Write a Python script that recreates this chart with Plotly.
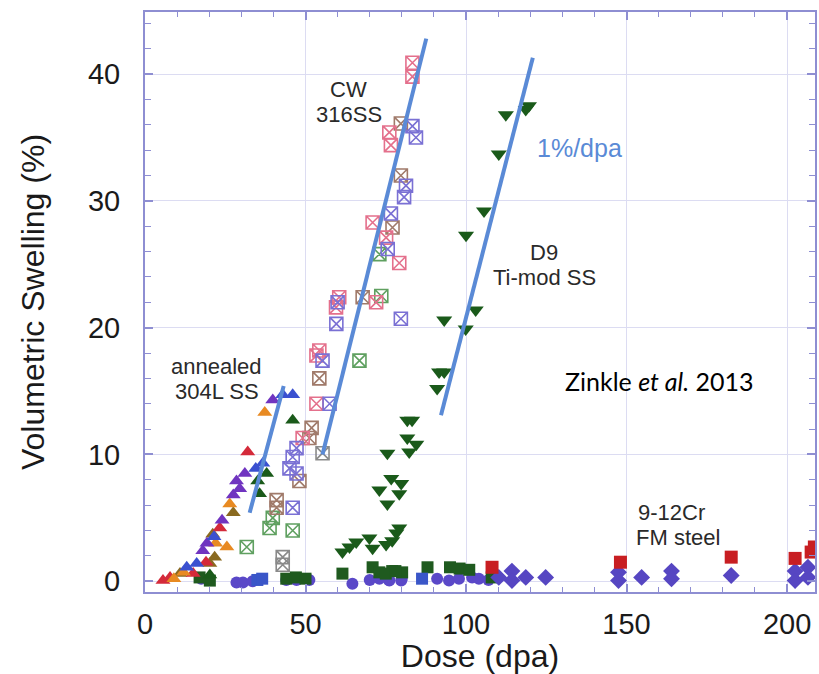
import plotly.graph_objects as go

# ---------------- data ----------------
# annealed 304L SS (triangles, several data sets)
a304_red_x = [32.0, 23.3, 7.8, 5.6, 15.0, 19.0]
a304_red_y = [10.2, 4.2, 0.3, 0.05, 0.6, 1.5]
a304_orange_x = [37.3, 26.4, 25.5, 12.0, 9.0, 22.0]
a304_orange_y = [13.3, 6.1, 2.7, 0.7, 0.2, 3.0]
a304_purple_x = [39.8, 31.1, 29.5, 28.5, 19.3, 18.0, 27.5, 24.0]
a304_purple_y = [14.3, 8.5, 7.3, 7.9, 3.0, 2.4, 6.8, 4.8]
a304_blue_x = [42.9, 46.0, 36.7, 34.5, 16.1, 13.0, 21.5]
a304_blue_y = [14.7, 14.7, 9.3, 8.9, 1.4, 1.1, 3.5]
a304_green_x = [46.0, 37.9, 35.1, 35.7, 20.2]
a304_green_y = [12.7, 8.5, 7.9, 6.9, 0.5]
a304_brown_x = [21.1, 20.2, 21.7, 27.5, 10.9]
a304_brown_y = [3.7, 1.4, 1.9, 5.4, 0.6]

# CW 316SS (hatched squares)
cw_pink_x = [83.3, 83.3, 76.1, 76.6, 70.9, 75.1, 79.2, 60.5, 54.3, 53.4, 53.4, 49.1, 59.5, 72.0]
cw_pink_y = [40.9, 39.8, 35.4, 34.4, 28.3, 27.1, 25.1, 22.4, 18.2, 17.8, 14.0, 11.3, 21.6, 22.0]
cw_purple_x = [83.3, 84.4, 81.3, 80.7, 76.6, 75.6, 59.6, 55.3, 57.5, 47.2, 46.0, 45.0, 47.2, 46.0, 79.7, 60.0]
cw_purple_y = [35.9, 35.0, 31.2, 30.3, 29.0, 26.2, 20.3, 17.4, 14.0, 10.5, 9.8, 8.9, 8.5, 5.8, 20.7, 22.0]
cw_brown_x = [79.7, 79.7, 77.1, 67.8, 54.3, 51.9, 51.2, 48.1, 41.0, 41.0]
cw_brown_y = [36.1, 32.0, 27.9, 22.4, 16.0, 12.1, 11.3, 7.9, 6.4, 5.8]
cw_green_x = [73.0, 73.6, 66.8, 39.8, 38.8, 46.0, 31.7]
cw_green_y = [25.8, 22.5, 17.4, 5.0, 4.2, 4.0, 2.7]
cw_gray_x = [55.3, 42.9, 42.9]
cw_gray_y = [10.1, 1.9, 1.3]

# D9 Ti-mod SS (down triangles)
d9_x = [119.6, 118.6, 112.4, 110.2, 105.6, 100.0, 103.0, 99.9, 93.2, 91.6, 93.2, 91.0,
        81.7, 83.2, 81.7, 84.5, 82.3, 75.5, 76.7, 79.8, 73.0, 79.2, 75.5, 79.2, 77.0,
        75.1, 61.5, 63.7, 65.8, 69.9, 70.9, 78.3]
d9_y = [37.5, 37.2, 36.8, 33.7, 29.2, 27.3, 21.4, 19.9, 20.6, 16.5, 16.5, 15.2,
        12.7, 12.7, 11.3, 10.8, 10.2, 10.1, 8.1, 7.7, 7.2, 6.9, 6.1, 4.2, 3.2,
        2.9, 2.3, 2.7, 3.1, 3.4, 2.6, 3.8]

# low-swelling alloys near zero
gsq_x = [20.2, 17.0, 44.0, 47.0, 50.0, 61.5, 70.9, 73.0, 77.0, 80.1, 88.0, 95.0, 98.0, 101.0, 108.0, 75.0, 78.0]
gsq_y = [0.05, 0.3, 0.2, 0.3, 0.2, 0.6, 1.1, 0.7, 0.8, 0.7, 1.1, 1.1, 1.0, 0.9, 0.3, 0.6, 0.8]
fm_red_x = [108.1, 148.1, 182.6, 202.5, 207.5, 208.5]
fm_red_y = [1.1, 1.5, 1.9, 1.8, 2.3, 2.7]
bsq_x = [35.0, 36.5, 86.3]
bsq_y = [0.1, 0.2, 0.2]
fm_dia_x = [147.5, 147.5, 154.7, 164.0, 164.0, 182.6, 202.5, 202.5, 206.5, 206.5,
            114.3, 114.3, 118.6, 124.8, 110.2]
fm_dia_y = [0.7, 0.05, 0.3, 0.8, 0.2, 0.45, 0.8, 0.05, 1.1, 0.3,
            0.8, 0.05, 0.3, 0.3, 0.3]
circ_x = [91.0, 94.7, 97.8, 101.9, 79.8, 76.1, 28.5, 30.5, 33.5, 44.0, 47.2, 51.2, 64.6, 70.0, 73.0, 76.0, 80.0, 17.5, 104.0, 107.0]
circ_y = [0.2, 0.05, 0.2, 0.3, 0.05, 0.05, -0.1, -0.1, 0.0, 0.1, 0.1, 0.1, -0.2, 0.1, 0.2, 0.1, 0.2, 0.2, 0.2, 0.1]

# 1%/dpa guide lines
fit_304_x = [32.6, 43.2]
fit_304_y = [5.4, 15.4]
fit_316_x = [55.3, 87.6]
fit_316_y = [10.0, 42.8]
fit_d9_x = [92.2, 120.8]
fit_d9_y = [13.1, 41.3]

x_ticks = [0, 50, 100, 150, 200]
y_ticks = [0, 10, 20, 30, 40]

# ---------------- figure ----------------
fig = go.Figure()

def pts(x, y, color, symbol, size=12, line=None):
    m = dict(color=color, symbol=symbol, size=size)
    m["line"] = line if line else dict(width=0)
    fig.add_trace(go.Scatter(x=x, y=y, mode="markers", marker=m, showlegend=False,
                             hoverinfo="x+y"))

# near-zero alloys
pts(circ_x, circ_y, "#5a48c8", "circle", 12)
pts(gsq_x, gsq_y, "#1f5a1f", "square", 12)
pts(bsq_x, bsq_y, "#3a56c8", "square", 12)
pts(fm_dia_x, fm_dia_y, "#5646c2", "diamond", 13)
pts(fm_red_x, fm_red_y, "#c81e22", "square", 13)

# 304L
pts(a304_brown_x, a304_brown_y, "#8a6a20", "triangle-up", 13)
pts(a304_red_x, a304_red_y, "#d42a3a", "triangle-up", 13)
pts(a304_orange_x, a304_orange_y, "#e88a22", "triangle-up", 13)
pts(a304_green_x, a304_green_y, "#1a5a1a", "triangle-up", 13)
pts(a304_purple_x, a304_purple_y, "#7034c0", "triangle-up", 13)
pts(a304_blue_x, a304_blue_y, "#3a50d0", "triangle-up", 13)

# CW 316SS
for xs, ys, c in [(cw_green_x, cw_green_y, "#5fa060"),
                  (cw_gray_x, cw_gray_y, "#8a8a8a"),
                  (cw_brown_x, cw_brown_y, "#a07a6a"),
                  (cw_pink_x, cw_pink_y, "#e4708c"),
                  (cw_purple_x, cw_purple_y, "#7a70d4")]:
    pts(xs, ys, c, "square-x-open", 13, line=dict(color=c, width=1.6))

# D9
pts(d9_x, d9_y, "#1a5a1a", "triangle-down", 14)

# guide lines
for fx, fy in [(fit_304_x, fit_304_y), (fit_316_x, fit_316_y), (fit_d9_x, fit_d9_y)]:
    fig.add_trace(go.Scatter(x=fx, y=fy, mode="lines", showlegend=False,
                             line=dict(color="#5a8ad6", width=4), hoverinfo="skip"))

frame = "#8e8ed2"
grid = "#dcdcf2"
tickfont = dict(family="Liberation Sans, Arial, sans-serif", size=29, color="#1a1a1a")
titlefont = dict(family="Liberation Sans, Arial, sans-serif", size=32, color="#1a1a1a")

fig.update_xaxes(range=[0, 208.7], tickvals=x_ticks, showgrid=True, gridcolor=grid, gridwidth=1,
                 zeroline=False, showline=True, linecolor=frame, linewidth=2, mirror="ticks",
                 ticks="inside", ticklen=8, tickwidth=1.5, tickcolor=frame,
                 minor=dict(dtick=10, tick0=0, ticks="inside", ticklen=5, tickwidth=1.2,
                            tickcolor=frame, showgrid=False),
                 tickfont=tickfont, ticklabelstandoff=5,
                 title=dict(text="Dose (dpa)", font=titlefont, standoff=1))
fig.update_yaxes(range=[-0.85, 44.9], tickvals=y_ticks, showgrid=True, gridcolor=grid, gridwidth=1,
                 zeroline=False, showline=True, linecolor=frame, linewidth=2, mirror="ticks",
                 ticks="inside", ticklen=8, tickwidth=1.5, tickcolor=frame,
                 minor=dict(dtick=2, tick0=0, ticks="inside", ticklen=6, tickwidth=1.2,
                            tickcolor=frame, showgrid=False),
                 tickfont=tickfont, ticklabelstandoff=17,
                 title=dict(text="Volumetric Swelling (%)", font=titlefont, standoff=34))

ann_font = dict(family="Liberation Sans, Arial, sans-serif", size=22, color="#2a2a2a")
anns = [
    ("CW", 63.4, 38.81), ("316SS", 63.4, 36.84),
    ("annealed", 22.4, 16.95), ("304L SS", 22.4, 14.97),
    ("D9", 124.3, 25.94), ("Ti-mod SS", 124.3, 23.97),
    ("9-12Cr", 164.0, 5.43), ("FM steel", 166.0, 3.46),
]
for t, ax, ay in anns:
    fig.add_annotation(x=ax, y=ay, text=t, showarrow=False, font=ann_font,
                       xanchor="center", yanchor="middle")
fig.add_annotation(x=121.5, y=34.2, text="1%/dpa", showarrow=False, xanchor="left",
                   yanchor="middle",
                   font=dict(family="Liberation Sans, Arial, sans-serif", size=25, color="#5a8ad6"))
fig.add_annotation(x=160.0, y=15.8, text="Zinkle <i>et al.</i> 2013", showarrow=False,
                   xanchor="center", yanchor="middle",
                   font=dict(family="Lato, sans-serif", size=25, color="#000000"))

fig.update_layout(width=819, height=674, margin=dict(l=145, r=2, t=12, b=82),
                  paper_bgcolor="white", plot_bgcolor="white", showlegend=False)

fig.write_html("out.html")
